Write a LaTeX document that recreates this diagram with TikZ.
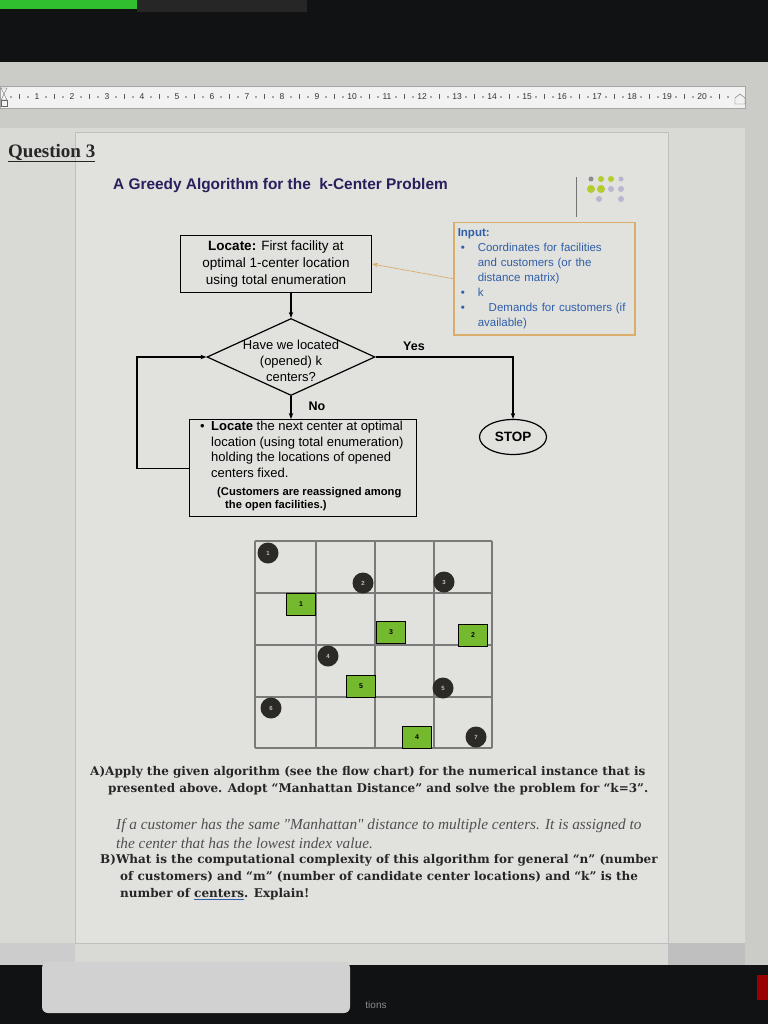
\documentclass[tikz,border=0pt]{standalone}
\usepackage{fontspec}
\setmainfont{Liberation Serif}
\setsansfont{Liberation Sans}
\newfontfamily\slabfont{DejaVu Serif}
\usepackage{tikz}
\usetikzlibrary{positioning,shapes.geometric,arrows.meta}
\usepackage{xcolor}
\definecolor{screendark}{HTML}{111214}
\definecolor{winbar}{HTML}{2FBF2F}
\definecolor{wingrey}{HTML}{CBCBC8}
\definecolor{pagegrey}{HTML}{D9D9D6}
\definecolor{framegrey}{HTML}{E1E1DE}
\definecolor{titleblue}{HTML}{2A1E5C}
\definecolor{inputblue}{HTML}{2F5EA8}
\definecolor{inputedge}{HTML}{D9AE6A}
\definecolor{gridgrey}{HTML}{7A7A78}
\definecolor{facgreen}{HTML}{74B92E}
\definecolor{custdark}{HTML}{2B2A27}
\definecolor{dotgreen}{HTML}{B5CC2E}
\definecolor{dotlilac}{HTML}{B9B6D0}
\definecolor{textdark}{HTML}{262626}
\definecolor{notegrey}{HTML}{505050}

\begin{document}
\begin{tikzpicture}[x=1pt,y=-1pt,
                    box/.style={draw, line width=1.2pt},
                    decision/.style={diamond, draw, line width=1.2pt, minimum width=168pt, minimum height=77pt, inner sep=0pt},
                    flow/.style={-{Stealth[length=6pt,width=4.5pt]}, line width=1.1pt},
                    plain/.style={inner sep=0pt, font=\sffamily\fontsize{13}{16}\selectfont},
                    customer/.style={circle, fill=custdark, minimum size=21pt, inner sep=0pt, text=white!75!black, font=\sffamily\bfseries\fontsize{6}{6}\selectfont},
                    facility/.style={rectangle, draw=black, line width=1pt, fill=facgreen, minimum width=29pt, minimum height=22pt, inner sep=0pt, font=\sffamily\bfseries\fontsize{7}{7}\selectfont},
                    question/.style={anchor=west, inner sep=0pt, text=textdark, font=\slabfont\bfseries\fontsize{12}{14}\selectfont},
                    note/.style={anchor=west, inner sep=0pt, text=notegrey, font=\rmfamily\itshape\fontsize{15.3}{17}\selectfont},
                    rulernum/.style={inner sep=0pt, text=black!80, font=\sffamily\fontsize{8.5}{8.5}\selectfont}]
    \useasboundingbox (0,0) rectangle (768,1024);
    \fill[wingrey] (0,0) rectangle (768,1024);
    \fill[screendark] (0,0) rectangle (768,62);
    \fill[winbar] (0,0) rectangle (137,9);
    \fill[black!85] (137,0) rectangle (307,12);
    \fill[black!5] (0,86) rectangle (745,108);
    \draw[black!35] (0,86) rectangle (745,108);
    \draw[black!60] (1,88) -- (7,88) -- (4,94) -- (7,100) -- (1,100) -- (4,94) -- cycle;
    \draw[black!60] (1,100) rectangle (7,106);
    \foreach \i in {0,...,20} {
        \fill[black!65] ({37+35*(\i-1)+9},97) circle (0.8);
        \draw[black!65] ({37+35*(\i-1)+17.5},94.5) -- ({37+35*(\i-1)+17.5},99.5);
        \fill[black!65] ({37+35*(\i-1)+26},97) circle (0.8);
    }
    \foreach \i in {1,...,20}
        \node (rule\i) [rulernum] at ({37+35*(\i-1)},97) {\i};
    \draw[black!60] (735,104) -- (735,98) -- (740,94) -- (745,98) -- (745,104) -- cycle;
    \fill[pagegrey] (0,128) rectangle (745,965);
    \fill[framegrey] (75,132) rectangle (668,943);
    \draw[black!25] (75,132) rectangle (668,943);
    \node (qtitle) [anchor=west, inner sep=0pt, text=textdark, font=\rmfamily\bfseries\fontsize{19}{19}\selectfont] at (8,153) {\underline{Question 3}};

    \node (title) [anchor=west, inner sep=0pt, text=titleblue, font=\sffamily\bfseries\fontsize{15.4}{15.4}\selectfont] at (113,186) {A Greedy Algorithm for the\ \ k-Center Problem};
    \draw[black!55, line width=0.8pt] (576,177) -- (576,217);
    \foreach \dx/\dy/\dr/\dc in {591/179/2.5/black!45, 601/179/3/dotgreen, 611/179/3/dotgreen, 621/179/2.5/dotlilac,
                                 591/189/4/dotgreen, 601/189/4/dotgreen, 611/189/3/dotlilac, 621/189/3/dotlilac,
                                 599/199/3/dotlilac, 621/199/3/dotlilac}
        \fill[\dc] (\dx,\dy) circle (\dr);

    \node (inputbox) [draw=inputedge, line width=1.5pt, anchor=north west, minimum width=181pt, minimum height=112pt,
                      text width=173pt, inner xsep=4pt, align=left, text=inputblue, font=\sffamily\fontsize{11.5}{15}\selectfont] at (453,222)
        {\textbf{Input:}\\
         \makebox[20pt][l]{\hspace{3pt}\textbullet}Coordinates for facilities\\
         \hspace*{20pt}and customers (or the\\
         \hspace*{20pt}distance matrix)\\
         \makebox[20pt][l]{\hspace{3pt}\textbullet}k\\
         \makebox[31pt][l]{\hspace{3pt}\textbullet}Demands for customers (if\\
         \hspace*{20pt}available)};

    \node (locatefirst) [box, minimum width=191pt, minimum height=57pt, align=center, inner sep=0pt,
                         font=\sffamily\fontsize{13.5}{17}\selectfont] at (276,264)
        {\textbf{Locate:} First facility at\\optimal 1-center location\\using total enumeration};

    \node (check) [decision] at (291,357) {};
    \node (checktext) [plain, align=center] at (291,361) {Have we located\\(opened) k\\centers?};

    \node (stop) [ellipse, draw, line width=1.2pt, minimum width=67pt, minimum height=35pt,
                  font=\sffamily\bfseries\fontsize{13.5}{13.5}\selectfont] at (513,437) {STOP};

    \node (locatenext) [box, anchor=north west, minimum width=227pt, minimum height=97pt] at (189,419) {};
    \node (locatenexttext) [plain, anchor=north west, align=left, font=\sffamily\fontsize{13}{15.5}\selectfont] at (200,421)
        {\makebox[11pt][l]{\textbullet}\textbf{Locate} the next center at optimal\\
         \hspace*{11pt}location (using total enumeration)\\
         \hspace*{11pt}holding the locations of opened\\
         \hspace*{11pt}centers fixed.};
    \node (reassign) [plain, anchor=north west, align=left, font=\sffamily\bfseries\fontsize{11.2}{13}\selectfont] at (217,487)
        {(Customers are reassigned among\\\hspace*{8pt}the open facilities.)};

    \node (yes) [plain, font=\sffamily\bfseries\fontsize{12.5}{12.5}\selectfont] at (414,346) {Yes};
    \node (no) [plain, font=\sffamily\bfseries\fontsize{12.5}{12.5}\selectfont] at (317,406) {No};

    \draw[-{Stealth[length=6pt,width=4.5pt]}, draw=inputedge, line width=0.7pt] (inputbox.west) -- (locatefirst.east);
    \draw[flow] (locatefirst.south -| check.north) -- (check.north);
    \draw[flow] (check.south) -- (check.south |- locatenext.north);
    \draw[flow] (check.east) -| (stop.north);
    \draw[flow] (locatenext.west) -- ++(-52,0) |- (check.west);

    \foreach \gx in {255,316,375,434,492}
        \draw[gridgrey, line width=2.8pt] (\gx,541) -- (\gx,748);
    \foreach \gy in {541,593,645,697,748}
        \draw[gridgrey, line width=2.8pt] (255,\gy) -- (492,\gy);
    \foreach \fx/\fy/\fn in {301/604/1, 473/635/2, 391/632/3, 417/737/4, 361/686/5}
        \node (fac\fn) [facility] at (\fx,\fy) {\fn};
    \foreach \cx/\cy/\cn in {268/553/1, 363/583/2, 444/582/3, 328/656/4, 443/688/5, 271/708/6, 476/737/7}
        \node (cust\cn) [customer] at (\cx,\cy) {\cn};

    \node (qa1) [question] at (90,772) {A)Apply the given algorithm (see the flow chart) for the numerical instance that is};
    \node (qa2) [question] at (108,789) {presented above. Adopt “Manhattan Distance” and solve the problem for “k=3”.};
    \node (qnote1) [note] at (116,826) {If a customer has the same \textquotedbl Manhattan\textquotedbl\ distance to multiple centers. It is assigned to};
    \node (qnote2) [note] at (116,843) {the center that has the lowest index value.};
    \node (qb1) [question] at (100,860) {B)What is the computational complexity of this algorithm for general “n” (number};
    \node (qb2) [question] at (120,877) {of customers) and “m” (number of candidate center locations) and “k” is the};
    \node (qb3) [question] at (120,894) {number of {\color{inputblue}\underline{\textcolor{textdark}{centers}}}. Explain!};

    \fill[black!25] (668,943) rectangle (745,965);
    \fill[black!20] (0,943) rectangle (75,965);
    \fill[screendark] (0,965) rectangle (768,1024);
    \fill[black!18, rounded corners=6pt] (42,962) rectangle (350,1013);
    \fill[red!60!black] (757,975) rectangle (768,1000);
    \node (taskbar) [inner sep=0pt, text=black!45, font=\sffamily\fontsize{10}{10}\selectfont] at (376,1005) {tions};
\end{tikzpicture}
\end{document}
